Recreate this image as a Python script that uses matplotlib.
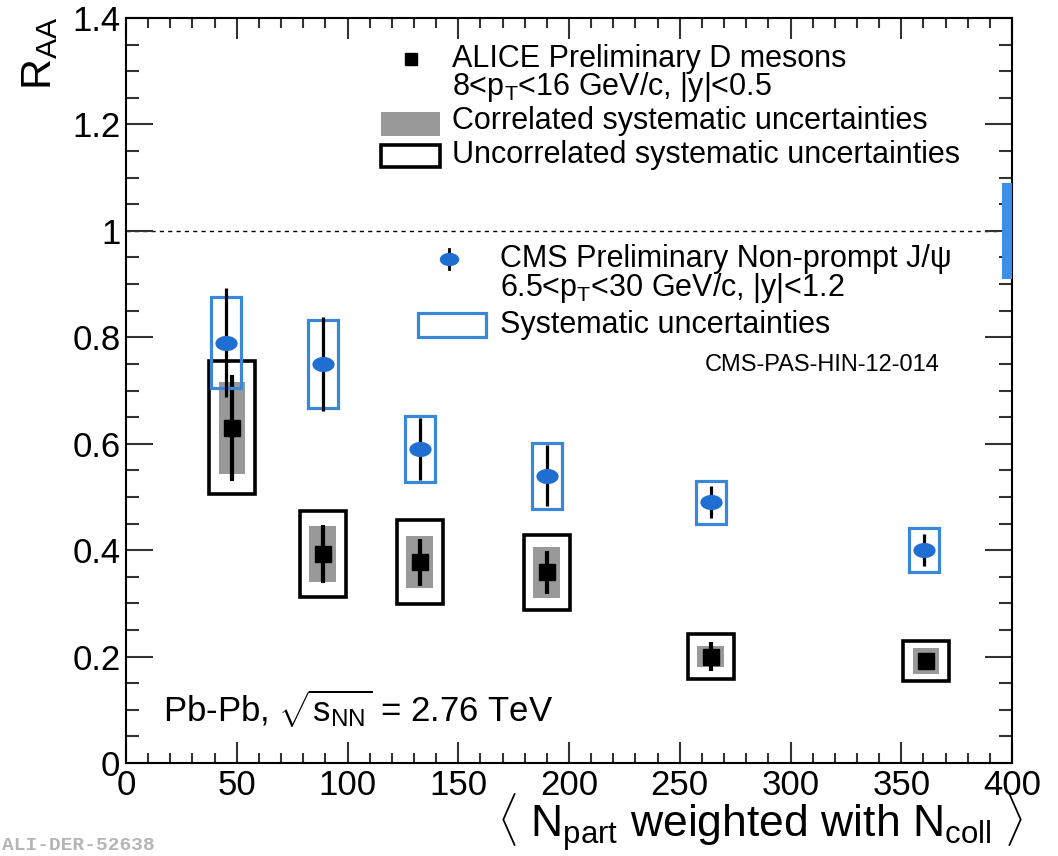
import numpy as np
import matplotlib
matplotlib.use("Agg")
import matplotlib.pyplot as plt
from matplotlib.patches import Rectangle
from matplotlib.lines import Line2D
from matplotlib.path import Path

plt.rcParams["font.family"] = ["Liberation Sans", "DejaVu Sans"]
plt.rcParams["mathtext.fontset"] = "custom"
plt.rcParams["mathtext.rm"] = "Liberation Sans"
plt.rcParams["mathtext.it"] = "Liberation Sans:italic"
plt.rcParams["mathtext.bf"] = "Liberation Sans:bold"

# CMS non-prompt J/psi
npart_cms = [45.1, 88.8, 132.6, 189.9, 264.0, 360.3]
raa_cms = [0.79, 0.75, 0.59, 0.54, 0.49, 0.40]
stat_cms = [0.103, 0.088, 0.058, 0.057, 0.03, 0.03]
syst_cms = [0.086, 0.082, 0.062, 0.062, 0.04, 0.042]
glob_cms = 0.09

# ALICE D mesons
npart_alice = [47.8, 88.8, 132.6, 189.9, 264.0, 361.2]
raa_alice = [0.63, 0.393, 0.377, 0.358, 0.200, 0.192]
stat_alice = [0.10, 0.055, 0.044, 0.041, 0.028, 0.015]
corr_alice = [0.086, 0.053, 0.049, 0.048, 0.019, 0.025]
uncorr_alice = [0.125, 0.081, 0.079, 0.071, 0.042, 0.038]

W, H = 1058, 856
BLUE = "#1f6fd2"
BLUE_BOX = "#3a86d9"
GRAY = "#999999"


def fx(x):
    return x / W


def fy(y):
    return 1 - y / H


# ellipse marker for CMS
t = np.linspace(0, 2 * np.pi, 60)
ellipse = Path(np.column_stack([np.cos(t), 0.68 * np.sin(t)]), closed=True)

fig = plt.figure(figsize=(W / 100, H / 100), dpi=100)
ax = fig.add_axes([fx(126), fy(763), fx(1012) - fx(126), fy(18) - fy(763)])

ax.set_xlim(0, 400)
ax.set_ylim(0, 1.4)

ax.plot([0, 394], [1.0, 1.0], color="black", lw=1, ls=(0, (3, 3)), zorder=1)

# ALICE boxes
for x, y, c, u in zip(npart_alice, raa_alice, corr_alice, uncorr_alice):
    ax.add_patch(Rectangle((x - 10.4, y - u), 20.8, 2 * u, fill=False,
                           ec="black", lw=2.6, zorder=2))
    ax.add_patch(Rectangle((x - 6.0, y - c), 12.0, 2 * c, fc=GRAY,
                           ec="none", zorder=3))
ax.errorbar(npart_alice, raa_alice, yerr=stat_alice, fmt="none",
            ecolor="black", elinewidth=3, capsize=0, zorder=4)
ax.plot(npart_alice, raa_alice, "s", color="black", ms=12, zorder=5)

# CMS boxes
for x, y, s in zip(npart_cms, raa_cms, syst_cms):
    ax.add_patch(Rectangle((x - 6.8, y - s), 13.6, 2 * s, fill=False,
                           ec=BLUE_BOX, lw=2.3, zorder=6))
ax.errorbar(npart_cms, raa_cms, yerr=stat_cms, fmt="none",
            ecolor="black", elinewidth=2.3, capsize=0, zorder=7)
ax.plot(npart_cms, raa_cms, marker=ellipse, ls="none", color=BLUE,
        mew=0, ms=16, zorder=8)

# global uncertainty
ax.add_patch(Rectangle((395.5, 1 - glob_cms), 4.5, 2 * glob_cms,
                       fc="#3d8ee8", ec="none", zorder=3))

# axes styling
ax.set_xticks(np.arange(0, 401, 50))
ax.set_xticks(np.arange(0, 401, 10), minor=True)
ax.set_yticks([0, 0.2, 0.4, 0.6, 0.8, 1.0, 1.2, 1.4])
ax.set_yticklabels(["0", "0.2", "0.4", "0.6", "0.8", "1", "1.2", "1.4"])
ax.set_yticks(np.arange(0, 1.401, 0.05), minor=True)
ax.tick_params(which="both", direction="in", top=True, right=True,
               color="#333333", width=1.5, labelsize=25)
ax.tick_params(axis="x", which="major", length=15, pad=4)
ax.tick_params(axis="x", which="minor", length=7.5)
ax.tick_params(axis="y", which="major", length=19.5, pad=4)
ax.tick_params(axis="y", which="minor", length=9.5)
for sp in ax.spines.values():
    sp.set_linewidth(1.5)

# axis titles
fig.text(fx(1024), fy(838),
         r"$\langle$ N$_{\rm part}$ weighted with N$_{\rm coll}$ $\rangle$",
         ha="right", va="baseline", fontsize=32)
fig.text(fx(20), fy(16), r"R$_{\rm AA}$", rotation=90, ha="left", va="top",
         fontsize=31)

# legend: ALICE
fig.add_artist(Line2D([fx(411)], [fy(59)], marker="s", color="black", ms=8,
                      transform=fig.transFigure))
fig.text(fx(452), fy(59), "ALICE Preliminary D mesons", va="center",
         fontsize=22)
fig.text(fx(452), fy(87), r"8<p$_{\rm T}$<16 GeV/c, |y|<0.5", va="center",
         fontsize=22)
fig.add_artist(Rectangle((fx(381), fy(136)), fx(440) - fx(381),
                         fy(112) - fy(136), fc=GRAY, ec="none",
                         transform=fig.transFigure))
fig.text(fx(452), fy(121), "Correlated systematic uncertainties",
         va="center", fontsize=22)
fig.add_artist(Rectangle((fx(381), fy(167)), fx(440) - fx(381),
                         fy(145) - fy(167), fill=False, ec="black", lw=2.6,
                         transform=fig.transFigure))
fig.text(fx(452), fy(155), "Uncorrelated systematic uncertainties",
         va="center", fontsize=22)

# legend: CMS
fig.add_artist(Line2D([fx(449), fx(449)], [fy(249), fy(269)], color="black",
                      lw=2, transform=fig.transFigure))
fig.add_artist(Line2D([fx(449)], [fy(259)], marker=ellipse, color=BLUE,
                      mew=0, ms=14, transform=fig.transFigure))
fig.text(fx(500), fy(259), "CMS Preliminary Non-prompt J/ψ", va="center",
         fontsize=22)
fig.text(fx(500), fy(288), r"6.5<p$_{\rm T}$<30 GeV/c, |y|<1.2",
         va="center", fontsize=22)
fig.add_artist(Rectangle((fx(418), fy(337)), fx(486) - fx(418),
                         fy(313) - fy(337), fill=False, ec=BLUE_BOX, lw=2.3,
                         transform=fig.transFigure))
fig.text(fx(500), fy(325), "Systematic uncertainties", va="center",
         fontsize=22)
fig.text(fx(705), fy(365), "CMS-PAS-HIN-12-014", va="center", fontsize=17)

fig.text(fx(163), fy(722), r"Pb-Pb, $\sqrt{\rm s_{NN}}$ = 2.76 TeV",
         va="baseline", fontsize=25)

fig.text(fx(2), fy(846), "ALI-DER-52638", va="center", ha="left",
         fontsize=14, color="#b5b5b5", family="Liberation Mono",
         weight="bold")

fig.savefig("out.png", dpi=100)
